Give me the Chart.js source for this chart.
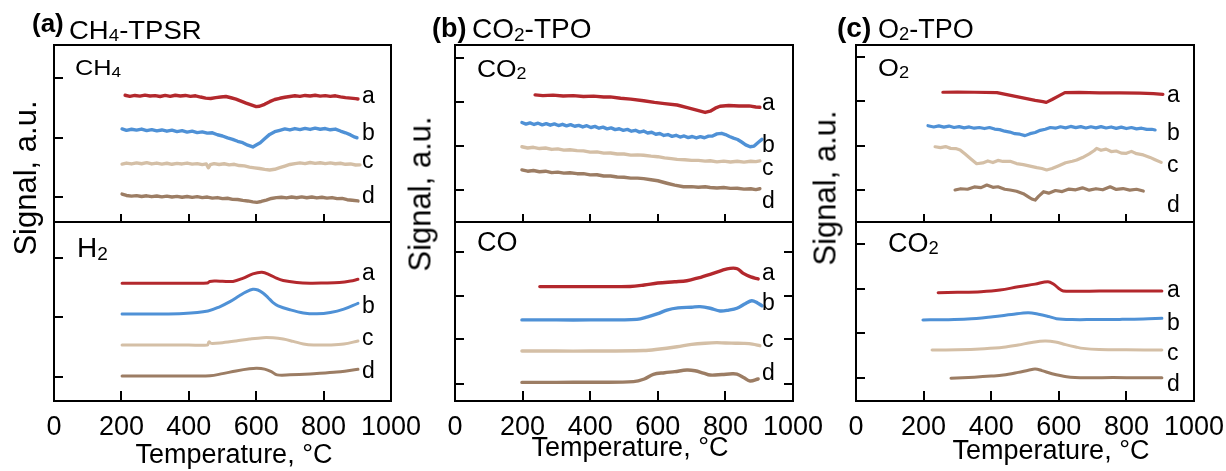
<!DOCTYPE html>
<html><head><meta charset="utf-8">
<script src="https://cdn.jsdelivr.net/npm/chart.js@4.4.0/dist/chart.umd.min.js"></script>
<style>
html,body{margin:0;padding:0;background:#fff;}
#root{position:relative;width:1226px;height:471px;overflow:hidden;font-family:"Liberation Sans",Arial,sans-serif;color:#000;background:#fff;}
canvas{position:absolute;}
.t{position:absolute;white-space:nowrap;line-height:1;}
.t sub{font-size:68%;vertical-align:baseline;position:relative;top:0.12em;}
</style></head><body><div id="root"></div>
<script>
// ---------------- DATA ----------------
// x: temperature (°C); y: signal (a.u., 0–100 within each sub-panel)
const xTickLabels = [0, 200, 400, 600, 800, 1000];
const xTickMarks = [200, 400, 600, 800];
const seriesNames = ['a', 'b', 'c', 'd'];

// (a) CH4-TPSR, CH4 signal
const ch4_yTicks = [14.1, 47.5, 81.4];
const ch4_a = [[211,71.6],[225,71.0],[240,71.5],[255,71.1],[270,71.7],[285,71.2],[300,71.4],[315,70.9],[330,71.5],[345,71.0],[360,71.6],[375,71.2],[390,71.5],[405,71.0],[420,71.3],[435,70.6],[450,70.0],[465,69.8],[480,70.3],[495,70.6],[510,70.9],[525,70.2],[540,69.4],[555,68.3],[570,67.2],[585,66.2],[600,65.2],[610,65.4],[625,66.5],[640,68.0],[655,69.2],[670,69.9],[685,70.5],[700,70.9],[715,71.3],[730,71.0],[745,71.5],[760,71.2],[775,71.6],[790,71.1],[805,71.4],[820,71.0],[835,71.3],[850,70.7],[865,70.3],[880,70.0],[895,69.7],[902,69.5]];
const ch4_b = [[202,52.6],[215,51.8],[230,52.4],[245,51.9],[260,52.5],[275,51.6],[290,52.2],[305,51.5],[320,52.0],[335,51.3],[350,51.9],[365,51.1],[380,51.6],[395,50.8],[410,51.3],[425,50.5],[440,50.9],[455,50.2],[470,50.4],[485,49.3],[500,48.6],[515,47.5],[530,46.7],[545,45.6],[560,44.8],[575,43.4],[590,42.4],[600,43.5],[612,44.8],[625,47.0],[640,49.5],[655,51.0],[670,51.8],[685,52.6],[700,52.0],[715,52.8],[730,52.2],[745,52.9],[760,52.3],[775,53.0],[790,52.4],[805,52.8],[820,52.1],[835,52.5],[850,51.4],[865,50.4],[880,49.2],[893,47.9],[899,47.6]];
const ch4_c = [[202,32.7],[215,33.3],[230,32.8],[245,33.4],[260,32.9],[275,33.5],[290,32.8],[305,33.3],[320,32.7],[335,33.2],[350,32.6],[365,33.1],[380,32.8],[395,33.3],[410,32.7],[425,33.0],[440,32.4],[452,32.8],[458,30.6],[464,32.4],[475,33.0],[490,32.5],[505,32.9],[520,32.3],[535,32.6],[550,31.9],[565,31.7],[580,31.0],[595,30.6],[610,30.2],[625,29.7],[640,29.4],[655,29.8],[670,30.7],[685,31.6],[700,32.5],[715,33.0],[730,33.4],[745,33.0],[760,33.6],[775,33.1],[790,33.5],[805,33.0],[820,33.4],[835,32.9],[850,33.2],[865,32.6],[880,32.8],[895,32.2],[908,32.3]];
const ch4_d = [[202,15.8],[215,15.0],[230,14.6],[245,14.9],[260,14.4],[275,14.8],[290,14.3],[305,14.7],[320,14.2],[335,14.6],[350,14.1],[365,14.5],[380,14.0],[395,14.4],[410,13.9],[425,14.3],[440,13.8],[455,14.1],[470,13.5],[485,13.8],[500,13.2],[515,13.4],[530,12.8],[545,12.7],[560,12.2],[575,11.9],[590,11.4],[602,11.1],[615,11.6],[630,12.4],[645,13.3],[660,13.8],[675,14.0],[690,13.6],[705,14.1],[720,13.7],[735,14.2],[750,13.7],[765,14.1],[780,13.6],[795,14.0],[810,13.5],[825,13.8],[840,13.2],[855,13.3],[870,12.6],[885,12.3],[902,11.9]];

// (a) CH4-TPSR, H2 signal
const h2_yTicks = [13.4, 46.9, 79.9];
const h2_a = [[202,65.8],[300,65.8],[400,65.8],[455,65.9],[462,66.8],[480,67.0],[500,66.9],[531,66.8],[560,68.5],[590,71.0],[617,71.9],[640,70.5],[660,68.6],[680,67.3],[720,66.2],[760,65.8],[800,65.9],[847,66.2],[880,67.0],[902,68.0]];
const h2_b = [[202,48.6],[300,48.6],[384,48.9],[457,50.3],[490,52.5],[522,55.5],[550,58.8],[570,61.0],[590,62.4],[605,62.0],[620,60.3],[635,57.8],[650,55.0],[665,53.2],[700,51.0],[740,49.2],[780,48.7],[820,49.4],[860,51.3],[902,54.6]];
const h2_c = [[202,31.3],[300,31.3],[400,31.3],[455,31.3],[460,33.1],[466,32.2],[500,32.6],[540,33.5],[580,34.6],[620,35.4],[650,35.3],[680,34.6],[710,33.3],[740,31.9],[770,31.3],[820,31.3],[860,31.8],[902,33.5]];
const h2_d = [[202,14.0],[300,14.0],[400,14.0],[463,14.1],[500,15.3],[540,16.8],[580,18.0],[602,18.3],[625,17.8],[645,16.4],[662,14.6],[700,14.6],[760,15.1],[830,16.0],[902,17.7]];

// (b) CO2-TPO, CO2 signal
const co2b_yTicks = [18.1, 42.9, 67.8, 92.7];
const co2b_a = [[237,71.8],[260,71.4],[290,71.7],[320,71.2],[350,71.4],[380,70.9],[410,71.1],[440,70.6],[459,70.7],[490,69.9],[520,69.4],[558,68.5],[590,67.6],[620,66.9],[657,66.1],[690,64.5],[715,63.2],[740,61.9],[755,62.6],[770,64.3],[784,65.4],[810,65.8],[840,65.5],[870,65.6],[890,65.0],[902,64.8]];
const co2b_b = [[198,56.2],[210,55.3],[222,56.0],[234,55.1],[246,55.8],[258,54.9],[270,55.6],[282,54.7],[294,55.4],[306,54.5],[318,55.2],[330,54.3],[342,55.0],[354,54.1],[366,54.6],[378,53.7],[390,54.4],[402,53.4],[414,54.0],[426,53.0],[438,53.6],[450,52.6],[462,53.2],[474,52.2],[486,52.7],[498,51.8],[510,52.3],[522,51.3],[534,51.8],[546,50.8],[558,51.4],[570,50.3],[582,50.7],[594,49.6],[606,50.0],[618,48.9],[630,49.4],[642,48.4],[654,49.0],[666,48.0],[678,48.6],[690,47.7],[702,48.3],[714,47.5],[726,48.2],[738,47.6],[750,48.5],[762,48.6],[775,49.8],[789,50.1],[800,49.4],[812,48.3],[824,47.4],[836,46.6],[848,45.2],[860,43.6],[873,42.5],[885,42.9],[896,44.8],[908,46.7]];
const co2b_c = [[198,42.5],[215,41.8],[232,42.2],[250,41.5],[268,41.8],[286,41.0],[304,41.3],[322,40.6],[340,40.8],[361,40.3],[380,40.2],[400,39.5],[420,39.6],[440,38.9],[460,39.0],[480,38.4],[500,38.4],[520,37.8],[540,37.9],[558,37.7],[580,37.2],[600,36.9],[620,36.2],[640,35.8],[657,35.4],[680,35.2],[700,34.8],[720,34.8],[740,34.4],[755,34.6],[775,34.0],[795,34.4],[815,33.9],[835,34.3],[855,33.8],[875,34.3],[890,34.1],[902,34.5]];
const co2b_d = [[198,29.4],[215,28.7],[232,29.1],[250,28.4],[268,28.7],[286,27.9],[304,28.2],[322,27.6],[340,27.8],[361,27.3],[380,27.3],[400,26.6],[420,26.7],[440,26.0],[460,26.0],[480,25.4],[500,25.3],[520,24.8],[540,24.8],[558,24.5],[580,23.9],[600,23.3],[627,21.9],[650,20.8],[676,19.9],[700,20.0],[720,19.6],[740,19.9],[755,19.5],[775,19.2],[795,19.5],[815,19.0],[835,19.1],[855,18.6],[875,18.8],[890,18.3],[902,18.8]];

// (b) CO2-TPO, CO signal
const co_yTicks = [9.5, 34.6, 58.7, 83.2];
const co_a = [[251,63.9],[300,63.9],[400,63.9],[518,64.0],[560,64.8],[600,65.9],[650,66.6],[686,67.2],[720,68.8],[755,70.8],[790,73.0],[814,74.1],[835,73.9],[853,71.3],[875,69.3],[897,68.2]];
const co_b = [[198,45.3],[300,45.3],[400,45.3],[538,45.6],[570,47.0],[600,48.8],[627,50.8],[660,52.0],[700,52.4],[725,52.7],[755,51.8],[784,50.3],[810,50.8],[834,51.8],[860,54.5],[878,56.0],[895,54.8],[908,53.2]];
const co_c = [[198,27.9],[300,27.9],[400,27.9],[558,28.2],[600,28.9],[657,30.3],[700,31.6],[740,32.3],[774,32.6],[800,32.4],[830,32.3],[853,32.2],[880,31.8],[902,30.9]];
const co_d = [[198,10.4],[300,10.4],[400,10.5],[528,10.8],[560,12.3],[587,14.9],[620,15.8],[650,16.4],[686,17.3],[710,16.9],[735,15.6],[755,14.5],[790,14.8],[820,15.2],[834,15.0],[855,13.0],[873,11.2],[897,12.3]];

// (c) O2-TPO, O2 signal
const o2_yTicks = [18.1, 42.9, 68.4, 93.2];
const o2_a = [[257,73.3],[300,73.4],[350,73.3],[417,73.1],[450,71.8],[490,70.3],[530,68.7],[553,68.0],[563,67.6],[580,69.2],[600,71.3],[618,73.1],[660,73.2],[720,73.0],[780,72.9],[840,72.8],[880,72.5],[908,72.1]];
const o2_b = [[213,54.4],[230,53.7],[245,54.3],[260,53.6],[275,54.2],[290,53.4],[305,53.9],[320,53.2],[335,53.7],[350,53.0],[365,53.4],[380,52.8],[395,53.4],[410,52.5],[425,52.2],[440,51.3],[455,50.8],[470,49.9],[485,49.6],[500,48.8],[515,49.9],[530,50.6],[545,51.8],[560,52.4],[575,53.4],[590,53.0],[605,53.8],[620,53.2],[635,54.0],[650,53.3],[665,53.9],[680,53.1],[695,53.8],[710,53.2],[725,53.9],[740,53.1],[755,53.7],[770,52.9],[785,53.6],[800,52.8],[815,53.4],[830,52.6],[845,53.0],[860,52.3],[875,52.4],[885,52.0]];
const o2_c = [[234,42.5],[250,42.0],[265,42.6],[280,41.6],[295,41.5],[308,40.7],[322,38.5],[340,35.6],[357,32.9],[375,33.4],[390,34.5],[405,33.6],[420,34.8],[435,34.2],[456,34.3],[475,33.0],[495,32.4],[515,31.6],[535,30.7],[550,30.2],[564,29.4],[580,30.2],[600,31.8],[620,33.5],[640,34.3],[653,35.0],[670,36.4],[690,38.5],[705,40.4],[712,41.6],[725,40.5],[740,41.2],[755,39.8],[770,40.1],[785,38.9],[800,38.8],[815,39.9],[830,38.6],[850,37.9],[870,36.5],[885,35.2],[903,33.7]];
const o2_d = [[293,18.1],[310,18.8],[330,18.5],[350,19.8],[370,19.4],[387,20.9],[405,19.6],[420,19.9],[440,18.5],[456,18.1],[475,17.4],[495,16.0],[510,14.2],[520,13.0],[530,12.4],[540,14.5],[555,17.1],[570,16.3],[590,17.8],[610,17.2],[630,18.6],[650,18.2],[670,19.3],[690,18.0],[710,18.8],[730,18.2],[752,19.9],[770,18.4],[790,18.9],[810,18.0],[830,18.5],[850,17.5]];

// (c) O2-TPO, CO2 signal
const co2c_yTicks = [12.8, 38.0, 62.6, 87.7];
const co2c_a = [[243,60.5],[300,60.7],[370,61.1],[426,62.0],[480,63.8],[530,65.3],[568,66.6],[585,65.2],[600,62.9],[613,61.5],[650,61.3],[720,61.4],[800,61.4],[860,61.5],[905,61.5]];
const co2c_b = [[198,45.3],[260,45.4],[330,45.8],[405,47.1],[460,48.3],[509,49.3],[540,48.5],[570,47.2],[593,46.0],[640,45.5],[700,45.5],[780,45.6],[850,45.8],[905,46.2]];
const co2c_c = [[225,28.5],[300,28.6],[380,29.2],[436,30.0],[480,31.3],[520,32.7],[559,33.5],[590,33.0],[620,31.5],[650,30.2],[672,29.4],[720,28.8],[800,28.6],[905,28.5]];
const co2c_d = [[281,12.7],[350,13.3],[400,13.9],[436,14.5],[480,16.0],[510,17.2],[530,17.9],[550,17.0],[580,15.2],[623,13.6],[680,13.0],[760,13.1],[840,13.0],[905,13.0]];

// ---------------- STYLE / LAYOUT ----------------
const COLORS = ['#b3282d', '#4f91d6', '#d4bfa6', '#9c7d64'];
const root = document.getElementById('root');
const MX = 45, MY = 14, EXTRA_BOTTOM = 50;

const subPanels = [
  {left:54,  right:391,  top:45,  bottom:222, series:[ch4_a,ch4_b,ch4_c,ch4_d],   yTicks:ch4_yTicks,  rightTicks:false, labels:false, tension:0,   lw:3.4, xTickLen:8},
  {left:54,  right:391,  top:222, bottom:401, series:[h2_a,h2_b,h2_c,h2_d],       yTicks:h2_yTicks,   rightTicks:false, labels:true,  tension:0.35,lw:3,   xTickLen:10},
  {left:455, right:793,  top:45,  bottom:222, series:[co2b_a,co2b_b,co2b_c,co2b_d],yTicks:co2b_yTicks,rightTicks:false, labels:false, tension:0,   lw:3.4, xTickLen:8},
  {left:455, right:793,  top:222, bottom:401, series:[co_a,co_b,co_c,co_d],       yTicks:co_yTicks,   rightTicks:true,  labels:true,  tension:0.35,lw:3.4, xTickLen:10},
  {left:856, right:1194, top:45,  bottom:222, series:[o2_a,o2_b,o2_c,o2_d],       yTicks:o2_yTicks,   rightTicks:false, labels:false, tension:0,   lw:3.2, xTickLen:8},
  {left:856, right:1194, top:222, bottom:401, series:[co2c_a,co2c_b,co2c_c,co2c_d],yTicks:co2c_yTicks,rightTicks:false, labels:true,  tension:0.35,lw:3,   xTickLen:10},
];

const framePlugin = {
  id: 'frame',
  afterDatasetsDraw(chart, args, opts) {
    const {ctx, chartArea: a, scales: {x, y}} = chart;
    ctx.save();
    ctx.strokeStyle = '#000';
    ctx.lineWidth = 2;
    ctx.strokeRect(a.left, a.top, a.right - a.left, a.bottom - a.top);
    ctx.beginPath();
    opts.yTicks.forEach(v => {
      const py = Math.round(y.getPixelForValue(v));
      ctx.moveTo(a.left, py); ctx.lineTo(a.left + 9, py);
      if (opts.rightTicks) { ctx.moveTo(a.right, py); ctx.lineTo(a.right - 9, py); }
    });
    xTickMarks.forEach(v => {
      const px = Math.round(x.getPixelForValue(v));
      ctx.moveTo(px, a.bottom); ctx.lineTo(px, a.bottom - opts.xTickLen);
    });
    ctx.stroke();
    if (opts.labels) {
      ctx.fillStyle = '#000';
      ctx.font = '27px "Liberation Sans", Arial, sans-serif';
      ctx.textAlign = 'center';
      ctx.textBaseline = 'alphabetic';
      xTickLabels.forEach(v => ctx.fillText(String(v), x.getPixelForValue(v), a.bottom + 34));
    }
    ctx.restore();
  }
};

subPanels.forEach(p => {
  const w = (p.right - p.left) + 2 * MX;
  const h = (p.bottom - p.top) + 2 * MY + (p.labels ? EXTRA_BOTTOM : 0);
  const cv = document.createElement('canvas');
  cv.width = w; cv.height = h;
  cv.style.width = w + 'px'; cv.style.height = h + 'px';
  cv.style.left = (p.left - MX) + 'px'; cv.style.top = (p.top - MY) + 'px';
  root.appendChild(cv);
  new Chart(cv.getContext('2d'), {
    type: 'line',
    data: {
      datasets: p.series.map((s, i) => ({
        label: seriesNames[i],
        data: s.map(([t, v]) => ({x: t, y: v})),
        borderColor: COLORS[i],
        borderWidth: p.lw,
        pointRadius: 0,
        tension: p.tension,
        borderJoinStyle: 'round',
        borderCapStyle: 'round',
        fill: false
      }))
    },
    options: {
      responsive: false, animation: false, devicePixelRatio: 1,
      layout: {padding: {left: MX, right: MX, top: MY, bottom: MY + (p.labels ? EXTRA_BOTTOM : 0)}},
      scales: {
        x: {type: 'linear', min: 0, max: 1000, display: false},
        y: {type: 'linear', min: 0, max: 100, display: false}
      },
      plugins: {
        legend: {display: false}, tooltip: {enabled: false},
        frame: {yTicks: p.yTicks, rightTicks: p.rightTicks, xTickLen: p.xTickLen, labels: p.labels}
      }
    },
    plugins: [framePlugin]
  });
});

// ---------------- TEXT ----------------
function txt(html, x, baseline, size, o = {}) {
  const d = document.createElement('div');
  d.className = 't';
  d.innerHTML = html;
  d.style.fontSize = size + 'px';
  if (o.bold) d.style.fontWeight = 'bold';
  d.style.left = x + 'px';
  d.style.top = (baseline - 0.8465 * size) + 'px';
  const tr = [];
  if (o.center) tr.push('translateX(-50%)');
  if (o.sx) { tr.push('scaleX(' + o.sx + ')'); d.style.transformOrigin = o.center ? '50% 50%' : '0 0'; }
  if (tr.length) d.style.transform = tr.join(' ');
  root.appendChild(d);
  return d;
}
function vtxt(html, cx, cy, size) {
  const d = document.createElement('div');
  d.className = 't';
  d.innerHTML = html;
  d.style.fontSize = size + 'px';
  d.style.left = cx + 'px';
  d.style.top = cy + 'px';
  d.style.transform = 'translate(-50%,-50%) rotate(-90deg)';
  root.appendChild(d);
}

// panel titles
txt('(a)', 32, 32, 26, {bold: true});
txt('CH<sub>4</sub>-TPSR', 69, 39, 25, {sx: 1.1});
txt('(b)', 432, 38, 27, {bold: true});
txt('CO<sub>2</sub>-TPO', 472, 39, 28);
txt('(c)', 837, 38, 28, {bold: true});
txt('O<sub>2</sub>-TPO', 878, 39, 27);

// sub-panel species labels
txt('CH<sub>4</sub>', 75, 76, 22, {sx: 1.15});
txt('H<sub>2</sub>', 77, 258, 28);
txt('CO<sub>2</sub>', 477, 77, 24, {sx: 1.1});
txt('CO', 477, 252, 27);
txt('O<sub>2</sub>', 878, 76, 24, {sx: 1.12});
txt('CO<sub>2</sub>', 888, 253, 27);

// series labels
const seriesLabelPos = [
  {x: 362, ys: [103, 140, 168, 203]},
  {x: 362, ys: [280, 313, 345, 378]},
  {x: 762, ys: [110, 152, 175, 208]},
  {x: 762, ys: [280, 310, 347, 380]},
  {x: 1167, ys: [102, 140, 172, 212]},
  {x: 1167, ys: [297, 330, 360, 391]},
];
seriesLabelPos.forEach(p => p.ys.forEach((b, i) => txt(seriesNames[i], p.x, b, 23)));

// axis titles
txt('Temperature, °C', 234, 464, 27, {center: true});
txt('Temperature, °C', 630, 457, 27, {center: true});
txt('Temperature, °C', 1051, 460, 27, {center: true});
vtxt('Signal, a.u.', 25, 178, 31);
vtxt('Signal, a.u.', 420, 194, 31);
vtxt('Signal, a.u.', 825, 188, 31);
</script></body></html>
